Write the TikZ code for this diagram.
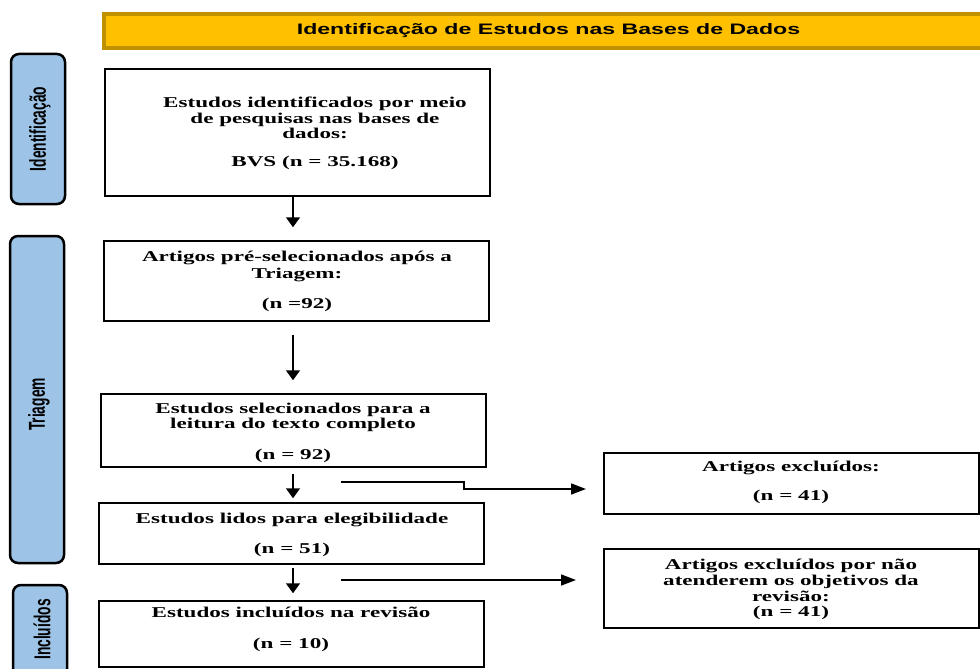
\documentclass[tikz,border=0pt]{standalone}
\usepackage{fontspec}
\usetikzlibrary{arrows.meta}
\setmainfont{Liberation Serif}
\newfontfamily\boxfont[FakeStretch=1.54]{Liberation Serif}
\newfontfamily\titlefont[FakeStretch=1.52]{Liberation Sans}
\newfontfamily\sidefont[FakeStretch=0.6]{Liberation Sans}
\definecolor{titlegold}{HTML}{FFC000}
\definecolor{titleedge}{HTML}{BF9000}
\definecolor{sideblue}{HTML}{9DC3E6}
\begin{document}
\begin{tikzpicture}[x=1pt,y=-1pt,
  box/.style={draw=black, line width=1.5pt, inner sep=0pt, minimum width=385pt},
  rbox/.style={draw=black, line width=1.5pt, inner sep=0pt, minimum width=375pt},
  side/.style={draw=black, fill=sideblue, line width=2.5pt, rounded corners=8pt, inner sep=0pt, minimum width=54pt},
  sidetext/.style={rotate=90, inner sep=0pt, font=\sidefont\bfseries\fontsize{23}{24}\selectfont},
  btext/.style={align=center, inner sep=0pt, font=\boxfont\bfseries\fontsize{15}{15.5}\selectfont},
  varr/.style={line width=1.6pt, -{Triangle[width=14pt,length=10pt]}},
  harr/.style={line width=1.6pt, -{Triangle[width=11pt,length=15pt]}}]
\useasboundingbox (0,0) rectangle (980,669);

% title bar
\node[draw=titleedge, fill=titlegold, line width=3.5pt, minimum width=878pt, minimum height=34pt, inner sep=0pt] (T) at (543,31) {};
\node[inner sep=0pt, font=\titlefont\bfseries\fontsize{15.2}{16}\selectfont] (Tt) at (548.5,31) {Identificação de Estudos nas Bases de Dados};

% side labels
\node[side, minimum height=150pt] (L1) at (38,129) {};
\node[sidetext] (L1t) at (40,129) {Identificação};
\node[side, minimum height=327pt] (L2) at (37,399.5) {};
\node[sidetext] (L2t) at (39,404.5) {Triagem};
\node[side, minimum height=115pt] (L3) at (40,642.5) {};
\node[sidetext] (L3t) at (42,629.5) {Incluídos};

% main boxes
\node[box, minimum height=127pt] (B1) at (297.5,132.5) {};
\node[btext] (B1t) at (315,133.5) {Estudos identificados por meio\\de pesquisas nas bases de\\dados:\\[12.5pt]BVS (n = 35.168)};
\node[box, minimum height=80pt] (B2) at (296.5,281) {};
\node[btext] (B2t) at (297,281.5) {Artigos pré-selecionados após a\\[1.5pt]Triagem:\\[14.5pt](n =92)};
\node[box, minimum height=73pt] (B3) at (293.5,430.5) {};
\node[btext] (B3t) at (293,433) {Estudos selecionados para a\\leitura do texto completo\\[15.5pt](n = 92)};
\node[box, minimum height=61pt] (B4) at (291.5,533.5) {};
\node[btext] (B4t) at (292,535) {Estudos lidos para elegibilidade\\[14.5pt](n = 51)};
\node[box, minimum height=66pt] (B5) at (291.5,634) {};
\node[btext] (B5t) at (291,629.5) {Estudos incluídos na revisão\\[15.5pt](n = 10)};

% right boxes
\node[rbox, minimum height=61pt] (R1) at (791.5,483.5) {};
\node[btext] (R1t) at (791,482.5) {Artigos excluídos:\\[13.5pt](n = 41)};
\node[rbox, minimum height=79pt] (R2) at (791.5,588.5) {};
\node[btext] (R2t) at (791,589.5) {Artigos excluídos por não\\[0.5pt]atenderem os objetivos da\\[0.5pt]revisão:\\(n = 41)};

% vertical arrows
\coordinate (ax) at (293,0);
\draw[varr, shorten >=13pt] (B1.south -| ax) -- (B2.north -| ax);
\draw[varr, shorten <=13pt, shorten >=13pt] (B2.south -| ax) -- (B3.north -| ax);
\draw[varr, shorten <=6pt, shorten >=4pt] (B3.south -| ax) -- (B4.north -| ax);
\draw[varr, shorten <=3pt, shorten >=7pt] (B4.south -| ax) -- (B5.north -| ax);

% side connectors
\coordinate (s1) at (341,482);
\coordinate (k1) at (464,489);
\coordinate (e1) at (586,489);
\draw[harr] (s1) -| (k1) -- (e1);
\coordinate (s2) at (341,580);
\coordinate (e2) at (576,580);
\draw[harr] (s2) -- (e2);
\end{tikzpicture}
\end{document}
